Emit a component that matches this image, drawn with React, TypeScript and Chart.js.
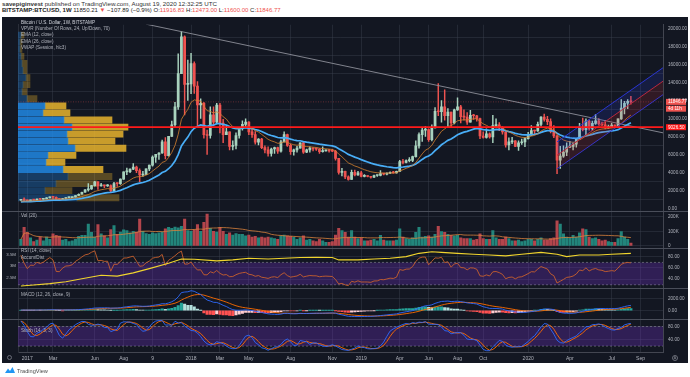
import React, { useEffect, useRef } from 'react';
import { Chart, registerables } from 'chart.js';

Chart.register(...registerables);

// ---------------- DATA (weekly BITSTAMP:BTCUSD) ----------------
// week index 0 = week of 2 Jan 2017; first candle is the week before
const FIRST_WEEK = -1;
const FIRST_OPEN = 890;

const closes = [
  998, 906, 820, 920, 915, 1020, 1000, 1050, 1150, 1270,
  1230, 960, 955, 1090, 1180, 1190, 1240, 1420, 1560, 1780,
  2040, 2150, 2530, 2950, 2500, 2550, 2500, 2520, 1920, 2760,
  2750, 3250, 4050, 4080, 4350, 4600, 4200, 3700, 3780, 4380,
  4800, 5700, 6000, 6150, 7400, 5850, 8000, 9300, 11300, 15000,
  19100, 13800, 13850, 16100, 13600, 11500, 11700, 8200, 8100, 10400,
  9600, 11500, 9500, 8200, 8500, 6900, 7000, 8100, 8900, 9350,
  9600, 8500, 8200, 7350, 7700, 6750, 6500, 6100, 6600, 6750,
  6350, 7400, 8200, 7000, 6300, 6500, 6700, 7300, 6250, 6500,
  6700, 6600, 6590, 6300, 6400, 6450, 6400, 6350, 5550, 4000,
  4100, 3500, 3200, 4000, 3700, 3950, 3550, 3560, 3540, 3450,
  3650, 3660, 3850, 3800, 3900, 4000, 3950, 4100, 5200, 5100,
  5300, 5320, 5750, 6950, 8200, 8700, 8750, 7650, 8950, 10800,
  10750, 11300, 10300, 10700, 9500, 10950, 11300, 10200, 10150, 9600,
  10350, 10300, 10000, 8050, 7900, 8300, 7950, 9200, 9300, 9000,
  8500, 7050, 7400, 7500, 6900, 7300, 7400, 7750, 8150, 8650,
  8600, 9350, 10150, 9900, 9650, 8550, 8050, 5350, 5800, 6250,
  6800, 6900, 7150, 7700, 8900, 8750, 9700, 8900, 9450, 9750,
  9400, 9300, 9000, 9100, 9250, 9150, 9950, 11150, 11700, 11916.83,
  11846.77,
];

const highs = [
  1000, 1153, 910, 925, 930, 1040, 1070, 1060, 1195, 1285,
  1330, 1260, 1085, 1100, 1200, 1210, 1255, 1425, 1620, 1810,
  2080, 2760, 2560, 2990, 2980, 2770, 2570, 2640, 2620, 2900,
  2800, 3290, 4070, 4480, 4390, 4980, 4700, 4400, 4100, 4400,
  4800, 5850, 6000, 6200, 7600, 7880, 8000, 9700, 11800, 17200,
  19666, 19200, 16500, 17250, 16300, 14100, 12200, 11800, 8700, 11300,
  11300, 11700, 11700, 9900, 9200, 8500, 7500, 8400, 9000, 9750,
  9950, 9650, 8800, 8550, 7750, 7800, 6950, 6850, 6700, 6800,
  6800, 7600, 8500, 8250, 7150, 6600, 6900, 7300, 7400, 6600,
  6850, 6750, 6700, 6650, 6850, 6500, 6550, 6550, 6450, 5550,
  4450, 4150, 3600, 4250, 4250, 4100, 4100, 3750, 3650, 3550,
  3700, 3700, 4200, 3900, 3950, 4050, 4100, 4150, 5350, 5450,
  5400, 5650, 5800, 7500, 8400, 8950, 9100, 8850, 9300, 11200,
  13880, 12000, 13200, 11100, 10700, 11050, 12300, 11450, 10950, 10650,
  10900, 10450, 10350, 10050, 8500, 8850, 8400, 10350, 9950, 9550,
  9100, 8500, 7850, 7900, 7550, 7500, 7700, 7850, 8450, 9200,
  8700, 9600, 10200, 10500, 10250, 9950, 9200, 8150, 6900, 6950,
  7300, 7450, 7300, 7800, 9450, 10050, 9950, 9850, 9700, 10450,
  10000, 9600, 9800, 9250, 9450, 9300, 9950, 12100, 11900, 12100,
  12473,
];

const lows = [
  885, 806, 740, 818, 880, 915, 930, 975, 1050, 1150,
  975, 940, 900, 955, 1080, 1160, 1170, 1240, 1410, 1560,
  1770, 1900, 2100, 2460, 2100, 2450, 2300, 2420, 1840, 1880,
  2420, 2650, 3200, 3740, 3960, 4300, 3970, 2970, 3540, 3750,
  4200, 4700, 5100, 5450, 6100, 5500, 5800, 8000, 9000, 11000,
  15000, 10400, 12000, 12750, 12800, 9000, 10000, 7800, 6000, 7800,
  9300, 9400, 8400, 7300, 8200, 6500, 6500, 6600, 7800, 8700,
  9000, 8200, 7900, 7150, 7050, 6650, 6150, 5800, 5800, 6100,
  6100, 6250, 7400, 6900, 6000, 5900, 6250, 6700, 6100, 6200,
  6250, 6400, 6450, 6100, 6250, 6350, 6250, 6300, 5350, 3800,
  3600, 3300, 3120, 3200, 3600, 3650, 3500, 3500, 3500, 3350,
  3400, 3550, 3600, 3700, 3700, 3850, 3900, 3900, 4100, 4950,
  5050, 5150, 5200, 5700, 6700, 7450, 8000, 7450, 7500, 8950,
  10300, 9600, 9800, 9100, 9100, 9400, 10900, 9500, 9800, 9350,
  9600, 9900, 9700, 7750, 7800, 7800, 7800, 7300, 8950, 8650,
  8250, 6800, 6500, 7200, 6850, 6450, 7100, 6850, 7700, 8100,
  8250, 8550, 9150, 9700, 9300, 8400, 7850, 3850, 4450, 5650,
  5850, 6750, 6500, 6800, 7650, 8600, 8150, 8700, 8650, 9350,
  9250, 9200, 8850, 8900, 9050, 9000, 9150, 9900, 10500, 11100,
  11600,
];

// weekly volume, thousands of BTC
const volumesK = [
  45, 128, 94, 55, 30, 40, 60, 35, 60, 45,
  83, 72, 67, 40, 45, 30, 35, 45, 65, 72,
  72, 150, 94, 60, 146, 83, 70, 55, 112, 139,
  80, 95, 110, 105, 90, 100, 95, 184, 100, 85,
  80, 90, 85, 90, 95, 117, 128, 120, 130, 125,
  135, 184, 105, 100, 110, 146, 100, 162, 218, 120,
  100, 95, 128, 100, 80, 90, 75, 85, 80, 80,
  70, 75, 60, 65, 55, 60, 55, 60, 55, 50,
  45, 70, 75, 70, 65, 60, 45, 55, 70, 40,
  45, 35, 30, 45, 35, 25, 25, 30, 75, 120,
  105, 94, 60, 105, 60, 50, 55, 35, 35, 40,
  45, 35, 72, 40, 35, 35, 35, 40, 117, 60,
  50, 45, 55, 94, 128, 60, 65, 70, 60, 80,
  135, 99, 94, 80, 72, 70, 72, 55, 50, 50,
  50, 40, 45, 83, 50, 45, 45, 105, 55, 45,
  45, 60, 50, 35, 35, 40, 30, 35, 45, 45,
  35, 45, 55, 40, 40, 50, 55, 173, 150, 83,
  60, 55, 72, 60, 90, 117, 112, 60, 50, 55,
  45, 35, 40, 30, 25, 25, 50, 99, 60, 45,
  20,
];

// 2016 weeks before the chart (indicator history only, not drawn)
const warmCloses = [575, 670, 760, 660, 700, 650, 665, 655, 625, 590, 570, 580, 575, 610, 608, 608, 600, 612, 617, 640, 655, 700, 705, 740, 740, 735, 765, 775, 790, 890];
const warmHighs = [590, 700, 780, 770, 705, 690, 680, 680, 660, 630, 600, 595, 585, 615, 615, 612, 610, 615, 620, 645, 660, 720, 720, 750, 755, 745, 770, 780, 800, 900];
const warmLows = [525, 570, 670, 560, 630, 640, 650, 645, 620, 480, 560, 570, 565, 570, 600, 600, 595, 600, 610, 615, 635, 655, 680, 700, 720, 725, 730, 765, 775, 790];

// Accumulation / Distribution (millions)
const adWeeks = [-1, 3, 8, 13, 18, 24, 29, 34, 39, 45, 49, 53, 60, 65, 70, 76, 81, 86, 91, 96, 98, 104, 109, 114, 119, 123, 127, 130, 135, 140, 145, 150, 155, 161, 166, 169, 173, 179, 183, 189];
const adValues = [2.16, 2.2, 2.26, 2.34, 2.47, 2.62, 2.58, 2.72, 2.9, 3.13, 3.31, 3.3, 3.23, 3.27, 3.34, 3.31, 3.34, 3.37, 3.38, 3.37, 3.27, 3.27, 3.31, 3.34, 3.41, 3.55, 3.62, 3.59, 3.55, 3.51, 3.48, 3.44, 3.51, 3.59, 3.51, 3.41, 3.48, 3.48, 3.51, 3.55];

// Volume profile (24 rows, bottom to top)
const VP_LOW = 780;
const VP_ROW = 787;
const vpUp = [590, 270, 380, 500, 450, 280, 300, 570, 500, 490, 540, 460, 250, 270, 90, 40, 50, 80, 50, 40, 30, 20, 20, 30];
const vpDown = [420, 270, 410, 440, 400, 190, 280, 510, 470, 560, 560, 480, 270, 210, 100, 50, 70, 40, 40, 50, 30, 20, 20, 30];
const VA_FIRST_ROW = 4;
const VA_LAST_ROW = 13;

const POC_PRICE = 9026.5;
const LAST_PRICE = 11846.77;
const COUNTDOWN = '4d 11h';

const trendWeeks = [38, 199];
const trendPrices = [20500, 8400];
const chanWeeks = [166, 199];
const chanMid = [5900, 14150];
const CHAN_HALF = 1500;

const tickWeeks = [1, 9, 22, 31, 40, 52, 61, 70, 83, 96, 105, 117, 126, 135, 143, 157, 170, 183, 192];
const tickLabels = ['2017', 'Mar', 'Jun', 'Aug', '9', '2018', 'Mar', 'May', 'Aug', 'Nov', '2019', 'Apr', 'Jun', 'Aug', 'Oct', '2020', 'Apr', 'Jul', 'Sep'];
const priceTicks = [0, 2000, 4000, 6000, 8000, 10000, 12000, 14000, 16000, 18000, 20000];
const volTicks = [0, 100, 200];
const rsiTicks = [40, 60, 80];
const macdTicks = [0, 2000];
const stochTicks = [40, 80];
const adTicks = [2.5, 3, 3.5];

// ---------------- indicator maths ----------------
function emaOf(src: number[], len: number): number[] {
  const a = 2 / (len + 1);
  const out: number[] = [];
  src.forEach((v, i) => out.push(i === 0 ? v : a * v + (1 - a) * out[i - 1]));
  return out;
}
function smaOf(src: (number | null)[], len: number, partial = false): (number | null)[] {
  return src.map((_, i) => {
    const win = src.slice(Math.max(0, i - len + 1), i + 1).filter((v) => v !== null) as number[];
    if (!partial && win.length < len) return null;
    if (win.length === 0) return null;
    return win.reduce((a, b) => a + b, 0) / win.length;
  });
}
function rsiOf(src: number[], len: number): (number | null)[] {
  const out: (number | null)[] = src.map(() => null);
  let up = 0;
  let dn = 0;
  for (let i = 1; i < src.length; i++) {
    const ch = src[i] - src[i - 1];
    const u = Math.max(ch, 0);
    const d = Math.max(-ch, 0);
    if (i <= len) {
      up += u / len;
      dn += d / len;
    } else {
      up = (up * (len - 1) + u) / len;
      dn = (dn * (len - 1) + d) / len;
    }
    if (i >= len) out[i] = dn === 0 ? 100 : 100 - 100 / (1 + up / dn);
  }
  return out;
}

const W = warmCloses.length;
const allC = [...warmCloses, ...closes];
const allH = [...warmHighs, ...highs];
const allL = [...warmLows, ...lows];
const opens = closes.map((c, i) => (i === 0 ? FIRST_OPEN : closes[i - 1]));
const weekOf = (i: number) => FIRST_WEEK + i;

const ema12All = emaOf(allC, 12);
const ema26All = emaOf(allC, 26);
const macdAll = ema12All.map((v, i) => v - ema26All[i]);
const signalAll = emaOf(macdAll, 9);
const histAll = macdAll.map((v, i) => v - signalAll[i]);
const rsiAll = rsiOf(allC, 14);
const rawStoch = allC.map((c, i) => {
  if (i < 13) return null;
  const hh = Math.max(...allH.slice(i - 13, i + 1));
  const ll = Math.min(...allL.slice(i - 13, i + 1));
  return hh === ll ? 50 : (100 * (c - ll)) / (hh - ll);
});
const kAll = smaOf(rawStoch, 3);
const dAll = smaOf(kAll, 3);
const volMA = smaOf(volumesK, 20, true);

const cut = <T,>(arr: T[]) => arr.slice(W);
const toPts = (arr: (number | null)[]) =>
  arr.map((v, i) => (v === null ? null : { x: weekOf(i), y: v })).filter((p) => p !== null) as { x: number; y: number }[];

const ema12 = toPts(cut(ema12All));
const ema26 = toPts(cut(ema26All));
const macdLine = toPts(cut(macdAll));
const signalLine = toPts(cut(signalAll));
const histCut = cut(histAll);
const rsiLine = toPts(cut(rsiAll));
const kLine = toPts(cut(kAll));
const dLine = toPts(cut(dAll));

// ---------------- styling ----------------
const FONT = '"Liberation Sans", Arial, sans-serif';
const UP = '#a9d3be';
const DOWN = '#ef5350';
const GRID = 'rgba(60,64,78,0.55)';
const TXT = '#b2b5be';
const X_MIN = -1.9;
const X_MAX = 199;
const VP_MAX = 6450;

const isUp = closes.map((c, i) => c >= opens[i]);

function makeConfig(): any {
  const hline = (id: string, y: number, color: string, width: number, dash: number[] = [], extra: any = {}) => ({
    type: 'line',
    yAxisID: id,
    xAxisID: 'x',
    data: [
      { x: X_MIN, y },
      { x: X_MAX, y },
    ],
    borderColor: color,
    borderWidth: width,
    borderDash: dash,
    pointRadius: 0,
    fill: false,
    ...extra,
  });
  const line = (id: string, data: any[], color: string, width: number, order: number, extra: any = {}) => ({
    type: 'line',
    yAxisID: id,
    xAxisID: 'x',
    data,
    borderColor: color,
    borderWidth: width,
    pointRadius: 0,
    fill: false,
    tension: 0,
    order,
    ...extra,
  });
  const vpMid = vpUp.map((_, r) => VP_LOW + VP_ROW * (r + 0.5));
  const inVA = (r: number) => r >= VA_FIRST_ROW && r <= VA_LAST_ROW;

  const datasets: any[] = [
    hline('yP', POC_PRICE, '#ff1a1a', 1.8, [], { order: 0 }),
    line('yP', chanWeeks.map((w, i) => ({ x: w, y: chanMid[i] + CHAN_HALF })), '#2a36d0', 1, 1, {
      fill: '+1',
      backgroundColor: 'rgba(45,60,230,0.16)',
    }),
    line('yP', chanWeeks.map((w, i) => ({ x: w, y: chanMid[i] })), '#c62831', 1, 1, {
      fill: '+1',
      backgroundColor: 'rgba(210,45,55,0.16)',
    }),
    line('yP', chanWeeks.map((w, i) => ({ x: w, y: chanMid[i] - CHAN_HALF })), '#2a36d0', 1, 1),
    line('yP', ema12, '#d5822f', 0.8, 2),
    line('yP', ema26, '#49aef7', 1.7, 3),
    line('yP', trendWeeks.map((w, i) => ({ x: w, y: trendPrices[i] })), '#8d909a', 0.9, 4),
    hline('yP', LAST_PRICE, 'rgba(239,83,80,0.45)', 0.8, [1, 1.5], { order: 6 }),
    {
      type: 'bar',
      yAxisID: 'yP',
      xAxisID: 'x',
      data: closes.map((_, i) => ({ x: weekOf(i), y: [lows[i], highs[i]] })),
      backgroundColor: isUp.map((u) => (u ? UP : DOWN)),
      barThickness: 0.8,
      grouped: false,
      order: 5,
    },
    {
      type: 'bar',
      yAxisID: 'yP',
      xAxisID: 'x',
      data: closes.map((c, i) => ({ x: weekOf(i), y: [opens[i], c] })),
      backgroundColor: isUp.map((u) => (u ? UP : DOWN)),
      barThickness: 2.1,
      minBarLength: 1,
      grouped: false,
      order: 5,
    },
    {
      type: 'bar',
      indexAxis: 'y',
      xAxisID: 'xv',
      yAxisID: 'yP',
      data: vpUp.map((u, r) => ({ y: vpMid[r], x: [0, u] })),
      backgroundColor: vpUp.map((_, r) => (inVA(r) ? 'rgba(33,140,235,0.82)' : 'rgba(33,140,235,0.32)')),
      barThickness: 6.2,
      grouped: false,
      order: 8,
    },
    {
      type: 'bar',
      indexAxis: 'y',
      xAxisID: 'xv',
      yAxisID: 'yP',
      data: vpDown.map((d, r) => ({ y: vpMid[r], x: [vpUp[r], vpUp[r] + d] })),
      backgroundColor: vpDown.map((_, r) => (inVA(r) ? 'rgba(240,185,45,0.82)' : 'rgba(240,185,45,0.32)')),
      barThickness: 6.2,
      grouped: false,
      order: 8,
    },
    {
      type: 'bar',
      yAxisID: 'yV',
      xAxisID: 'x',
      data: volumesK.map((v, i) => ({ x: weekOf(i), y: v })),
      backgroundColor: isUp.map((u) => (u ? '#22857b' : '#b3454c')),
      barThickness: 2.4,
      grouped: false,
      order: 5,
    },
    line('yV', toPts(volMA), '#d9823b', 0.8, 2),
    hline('yR', 70, '#8a8d96', 0.6, [2, 2], { fill: '+1', backgroundColor: 'rgba(110,50,190,0.33)', order: 7 }),
    hline('yR', 30, '#8a8d96', 0.6, [2, 2], { order: 7 }),
    line('yR', rsiLine, '#c8602c', 0.9, 2),
    {
      type: 'line',
      yAxisID: 'yAD',
      xAxisID: 'x',
      data: adWeeks.map((w, i) => ({ x: w, y: adValues[i] })),
      borderColor: '#f1d52e',
      borderWidth: 1.1,
      pointRadius: 0,
      fill: false,
      order: 1,
    },
    {
      type: 'bar',
      yAxisID: 'yM',
      xAxisID: 'x',
      data: histCut.map((h, i) => ({ x: weekOf(i), y: h })),
      backgroundColor: histCut.map((h, i) => {
        const prev = i === 0 ? histAll[W - 1] : histCut[i - 1];
        if (h >= 0) return h > prev ? '#26a69a' : '#b2dfdb';
        return h < prev ? '#ff5252' : '#ffcdd2';
      }),
      barThickness: 2.4,
      grouped: false,
      order: 5,
    },
    line('yM', macdLine, '#2f6bff', 0.9, 2),
    line('yM', signalLine, '#ff6d00', 0.9, 2),
    hline('yS', 80, '#8a8d96', 0.6, [2, 2], { fill: '+1', backgroundColor: 'rgba(110,50,190,0.33)', order: 7 }),
    hline('yS', 20, '#8a8d96', 0.6, [2, 2], { order: 7 }),
    line('yS', kLine, '#2f6bff', 0.9, 2),
    line('yS', dLine, '#ff6d00', 0.9, 2),
  ];

  const rightAxis = (weight: number, min: number, max: number, ticks: number[], fmt: (v: number) => string) => ({
    type: 'linear',
    axis: 'y',
    position: 'right',
    stack: 'R',
    stackWeight: weight,
    min,
    max,
    offset: false,
    grid: { color: GRID, drawTicks: false, lineWidth: 0.8 },
    border: { color: '#434651', width: 1 },
    ticks: { color: TXT, font: { size: 4.6, family: FONT }, padding: 5, callback: (v: number) => fmt(v) },
    afterBuildTicks: (s: any) => {
      s.ticks = ticks.map((v) => ({ value: v }));
    },
    afterFit: (s: any) => {
      s.width = 25;
    },
  });

  return {
    type: 'bar',
    data: { datasets },
    options: {
      animation: false,
      responsive: false,
      maintainAspectRatio: false,
      devicePixelRatio: 1,
      layout: { padding: { top: 1, left: 0, right: 0, bottom: 0 } },
      plugins: { legend: { display: false }, tooltip: { enabled: false }, title: { display: false } },
      events: [],
      scales: {
        x: {
          type: 'linear',
          axis: 'x',
          position: 'bottom',
          min: X_MIN,
          max: X_MAX,
          offset: false,
          grid: { color: GRID, drawTicks: false, offset: false, lineWidth: 0.8 },
          border: { color: '#434651' },
          ticks: {
            color: TXT,
            font: { size: 5, family: FONT },
            padding: 3.5,
            autoSkip: false,
            maxRotation: 0,
            callback: (v: number) => {
              const k = tickWeeks.indexOf(v);
              return k >= 0 ? tickLabels[k] : '';
            },
          },
          afterBuildTicks: (s: any) => {
            s.ticks = tickWeeks.map((v) => ({ value: v }));
          },
          afterFit: (s: any) => {
            s.height = 11;
          },
        },
        xv: { type: 'linear', axis: 'x', display: false, min: 0, max: VP_MAX, offset: false },
        yP: rightAxis(190, -295, 20436, priceTicks, (v) => v.toFixed(2)),
        yV: rightAxis(38, -15.5, 240.5, volTicks, (v) => (v === 0 ? '0' : v + 'K')),
        yR: rightAxis(41, 23.6, 95.5, rsiTicks, (v) => v.toFixed(2)),
        yM: rightAxis(31, -1339, 3661, macdTicks, (v) => v.toFixed(2)),
        yS: rightAxis(34, 1.8, 104.1, stochTicks, (v) => v.toFixed(2)),
        yAD: {
          type: 'linear',
          axis: 'y',
          position: 'left',
          min: -0.646,
          max: 13.27,
          offset: false,
          grid: { display: false, drawTicks: false },
          border: { color: '#2a2e39' },
          ticks: {
            color: TXT,
            font: { size: 4.4, family: FONT },
            padding: 2,
            callback: (v: number) => v + 'M',
          },
          afterBuildTicks: (s: any) => {
            s.ticks = adTicks.map((v) => ({ value: v }));
          },
          afterFit: (s: any) => {
            s.width = 16;
          },
        },
      },
    },
    plugins: [
      {
        id: 'darkBg',
        beforeDraw(chart: any) {
          const c = chart.ctx;
          c.save();
          c.fillStyle = '#131722';
          c.fillRect(0, 0, chart.width, chart.height);
          c.restore();
        },
      },
      {
        id: 'panelLines',
        afterDraw(chart: any) {
          const c = chart.ctx;
          c.save();
          c.strokeStyle = '#4a4e5a';
          c.lineWidth = 1;
          ['yP', 'yV', 'yR', 'yM'].forEach((id) => {
            const y = Math.round(chart.scales[id].bottom) + 0.5;
            c.beginPath();
            c.moveTo(0, y);
            c.lineTo(chart.width, y);
            c.stroke();
          });
          c.restore();
        },
      },
      {
        id: 'axisBoxes',
        afterDraw(chart: any) {
          const c = chart.ctx;
          const s = chart.scales.yP;
          const right = chart.chartArea.right;
          const items = [
            { v: LAST_PRICE, t: LAST_PRICE.toFixed(2), bg: '#ef5350', dy: 0 },
            { v: LAST_PRICE, t: COUNTDOWN, bg: '#ef5350', dy: 6.8 },
            { v: POC_PRICE, t: POC_PRICE.toFixed(2), bg: '#ff1a1a', dy: 0 },
          ];
          c.save();
          items.forEach((it) => {
            const y = s.getPixelForValue(it.v) + it.dy;
            c.fillStyle = it.bg;
            c.fillRect(right + 3, y - 3, chart.width - right - 5, 6);
            c.fillStyle = '#ffffff';
            c.font = `4.6px ${FONT}`;
            c.textBaseline = 'middle';
            c.fillText(it.t, right + 5, y + 0.3);
          });
          c.restore();
        },
      },
    ],
  };
}

const title = (text: string, left: number, top: number, color = TXT) => (
  <div
    style={{
      position: 'absolute',
      left,
      top,
      fontSize: 4.6,
      lineHeight: '5px',
      color,
      whiteSpace: 'nowrap',
      fontFamily: FONT,
      pointerEvents: 'none',
    }}
  >
    {text}
  </div>
);

export default function App() {
  const ref = useRef<HTMLCanvasElement>(null);
  useEffect(() => {
    if (!ref.current) return;
    const chart = new Chart(ref.current, makeConfig());
    return () => chart.destroy();
  }, []);

  const red = '#ef5350';
  return (
    <div
      style={{
        position: 'fixed',
        left: 0,
        top: 0,
        width: 690,
        height: 377,
        background: '#ffffff',
        overflow: 'hidden',
        fontFamily: FONT,
      }}
    >
      <div style={{ position: 'absolute', left: 2, top: 1, fontSize: 6.2, lineHeight: '6px', color: '#333', whiteSpace: 'nowrap' }}>
        <b>savepiginvest</b> published on TradingView.com, August 19, 2020 12:32:25 UTC
      </div>
      <div style={{ position: 'absolute', left: 2, top: 7.2, fontSize: 6, lineHeight: '6px', color: '#222', whiteSpace: 'nowrap' }}>
        <b>BITSTAMP:BTCUSD, 1W</b> 11850.21 <span style={{ color: red }}>▼</span> −107.89 (−0.9%) O:
        <span style={{ color: red }}>11916.83</span> H:<span style={{ color: red }}>12473.00</span> L:
        <span style={{ color: red }}>11600.00</span> C:<span style={{ color: red }}>11846.77</span>
      </div>
      <div style={{ position: 'absolute', left: 2, top: 17, width: 686, height: 346, background: '#131722' }}>
        <canvas ref={ref} width={686} height={346} style={{ display: 'block', width: 686, height: 346 }} />
      </div>
      {title('Bitcoin / U.S. Dollar, 1W, BITSTAMP', 21, 19.8, '#d1d4dc')}
      {title('VPVR (Number Of Rows, 24, Up/Down, 70)', 21, 25.8)}
      {title('EMA (12, close)', 21, 32.3)}
      {title('EMA (26, close)', 21, 38.5)}
      {title('VWAP (Session, hlc3)', 21, 44.8)}
      {title('Vol (20)', 21, 213)}
      {title('RSI (14, close)', 21, 248)}
      {title('Accum/Dist', 21, 254.5)}
      {title('MACD (12, 26, close, 9)', 21, 291.5)}
      {title('Stoch (14, 3, 3)', 21, 328)}
      <div
        style={{
          position: 'absolute',
          left: 7,
          top: 355,
          width: 5,
          height: 5,
          borderRadius: '50%',
          border: '0.8px solid #6a6d78',
          boxSizing: 'border-box',
        }}
      />
      <div
        style={{
          position: 'absolute',
          left: 672,
          top: 355,
          width: 6,
          height: 6,
          borderRadius: '50%',
          border: '0.8px solid #6a6d78',
          boxSizing: 'border-box',
          fontSize: 3.5,
          lineHeight: '4.5px',
          textAlign: 'center',
          color: '#8a8d96',
        }}
      >
        A
      </div>
      <svg style={{ position: 'absolute', left: 4, top: 366 }} width={12} height={8} viewBox="0 0 12 8">
        <path d="M1 7 L4 2.5 L6 5 L8.5 1 L11 7 Z" fill="#2196f3" />
      </svg>
      <div style={{ position: 'absolute', left: 17, top: 368, fontSize: 5.6, lineHeight: '6px', color: '#4a4a4a', whiteSpace: 'nowrap' }}>
        TradingView
      </div>
    </div>
  );
}
